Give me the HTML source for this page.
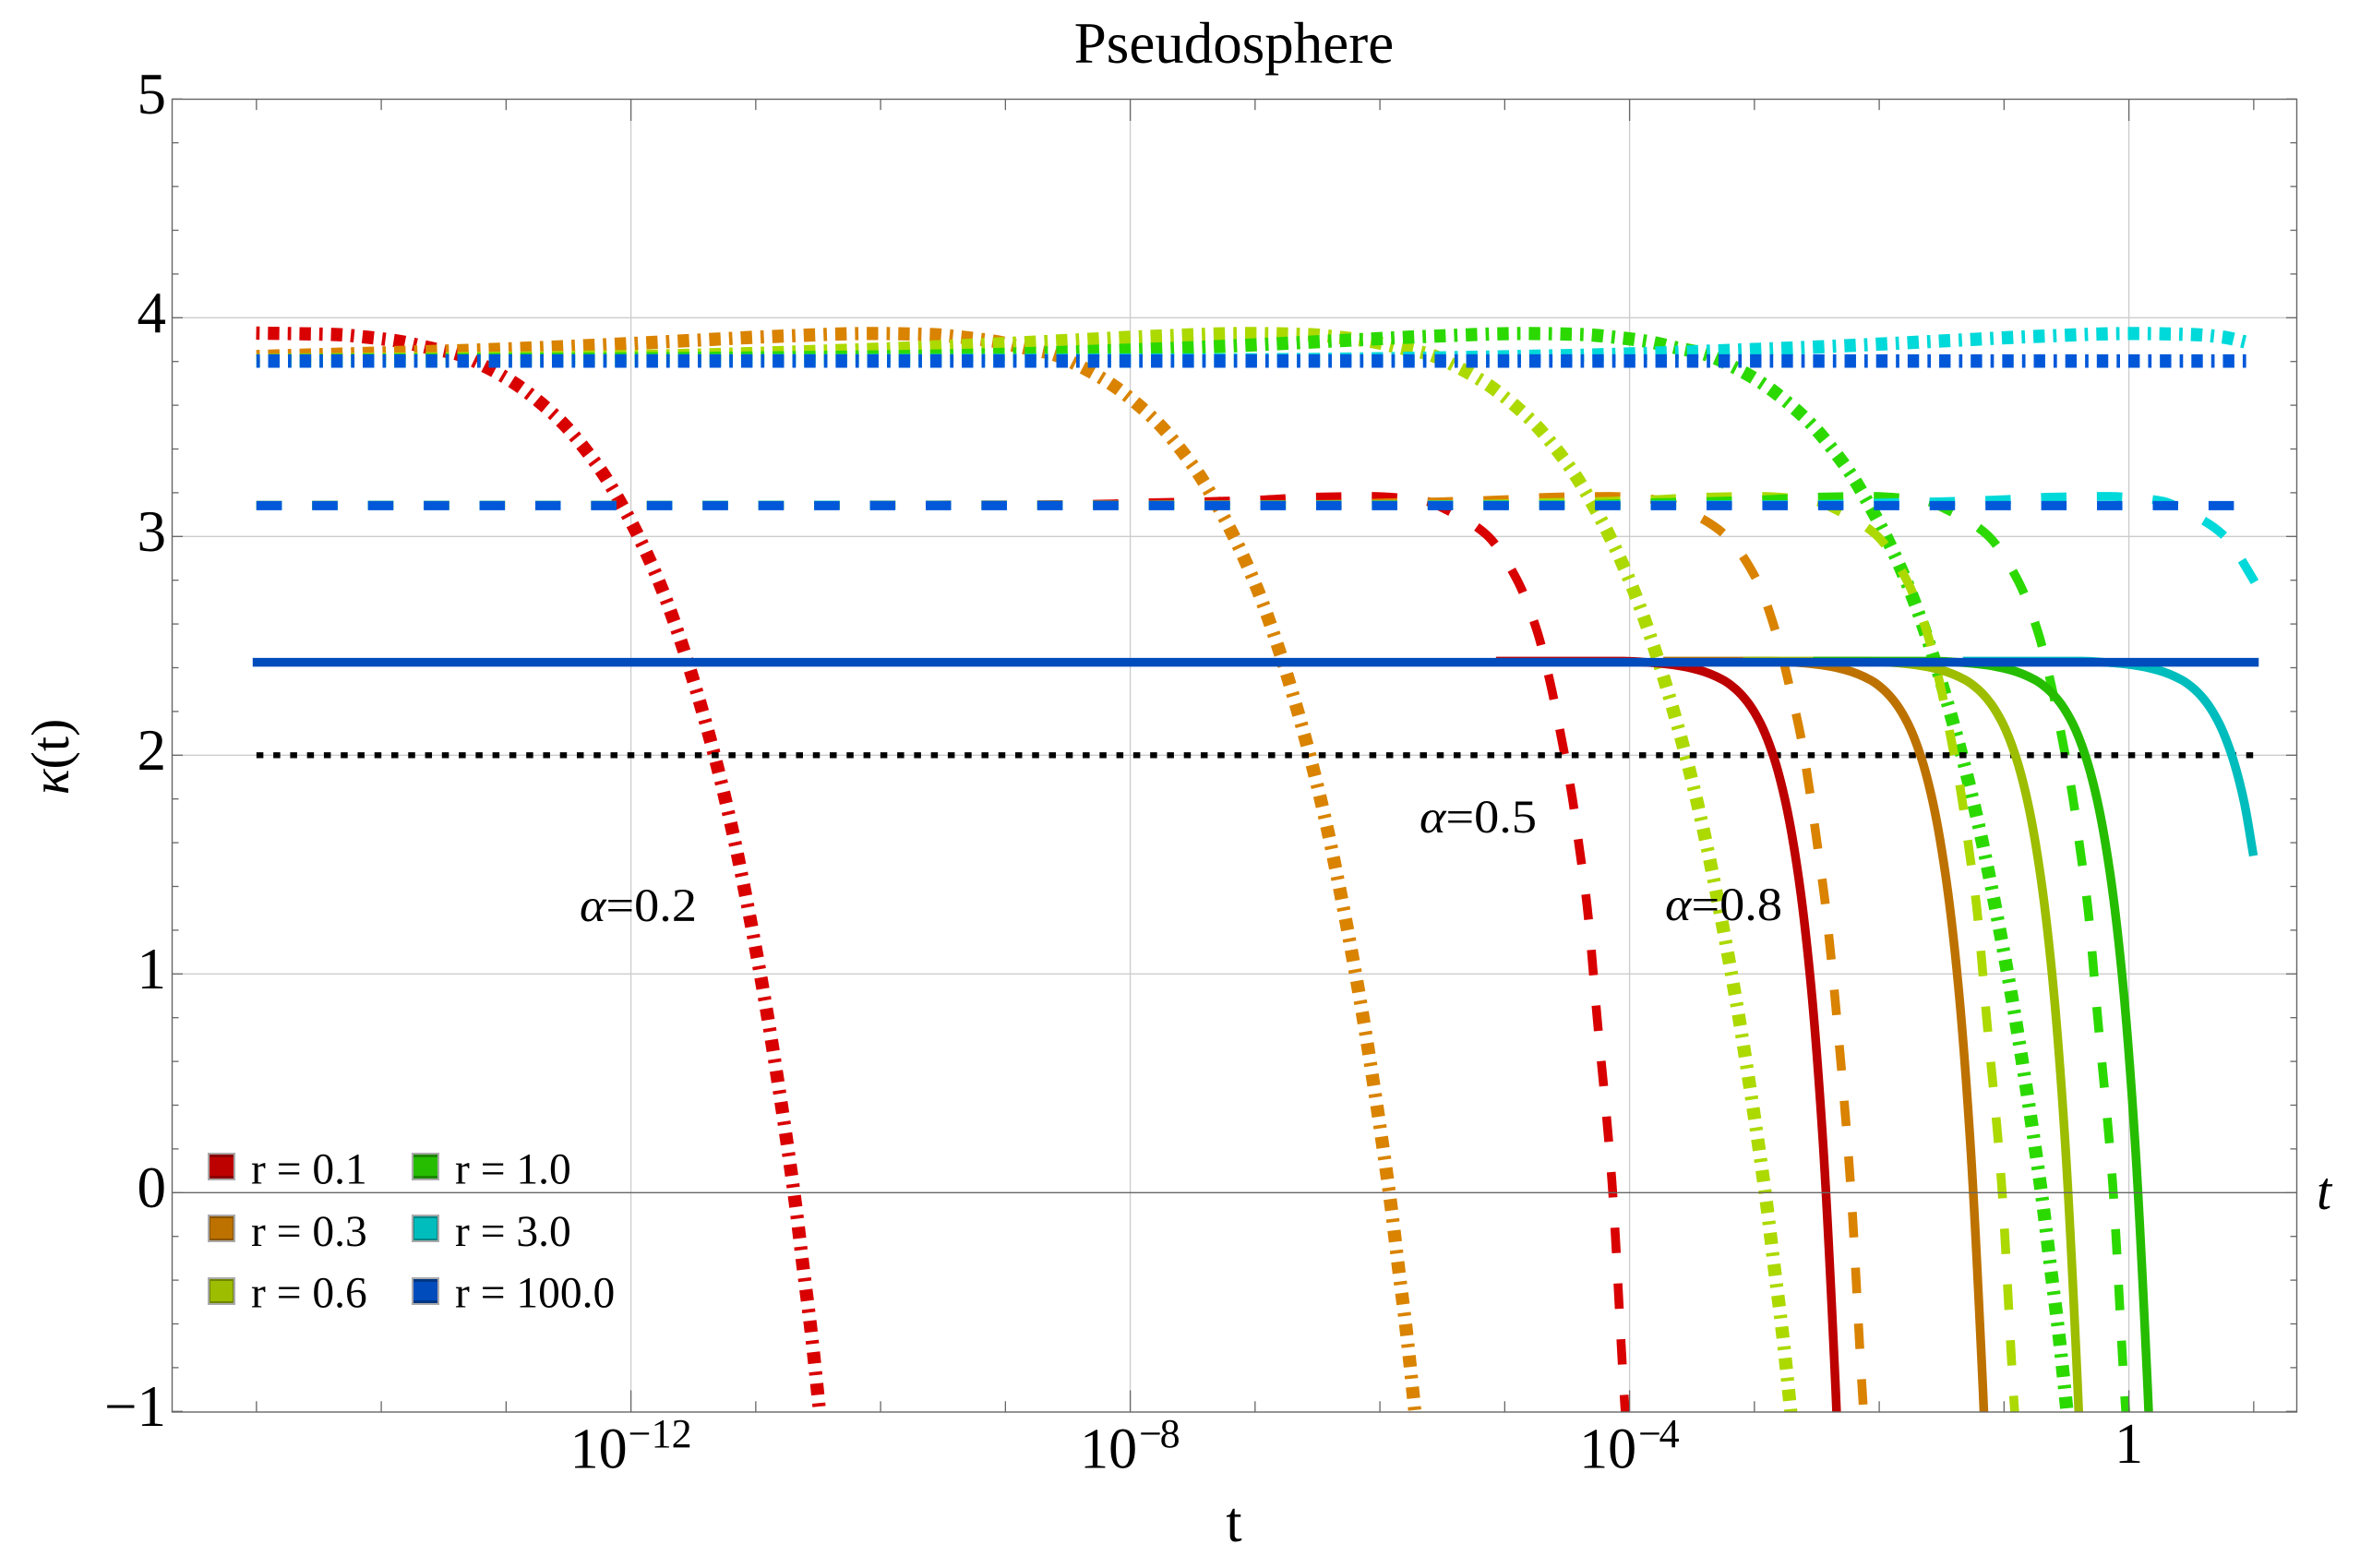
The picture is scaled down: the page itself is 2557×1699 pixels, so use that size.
<!DOCTYPE html>
<html lang="en">
<head>
<meta charset="utf-8">
<title>Pseudosphere</title>
<style>
html,body{margin:0;padding:0;background:#fff;}
svg{display:block;}
text{font-family:"Liberation Serif","DejaVu Serif",serif;fill:#000;}
</style>
</head>
<body>
<svg id="chart" xmlns="http://www.w3.org/2000/svg" width="2557" height="1699" viewBox="0 0 2557 1699">
  <defs>
    <clipPath id="plot-clip"><rect x="186.5" y="107.5" width="2302" height="1422.5"/></clipPath>
  </defs>
  <rect x="0" y="0" width="2557" height="1699" fill="#fff"/>
  <text x="1337" y="68" font-size="63" text-anchor="middle">Pseudosphere</text>
  <g id="grid"></g>
  <g id="curves" clip-path="url(#plot-clip)"></g>
  <g id="axes"></g>
  <g id="labels"></g>
  <text x="1337" y="1670" font-size="62" text-anchor="middle">t</text>
  <text transform="translate(74,820) rotate(-90)" font-size="58" text-anchor="middle"><tspan font-style="italic">κ</tspan>(t)</text>
  <text x="2510" y="1310" font-size="58" font-style="italic">t</text>
  <text x="628" y="998" font-size="51" textLength="127" lengthAdjust="spacingAndGlyphs"><tspan font-style="italic">α</tspan>=0.2</text>
  <text x="1538" y="902" font-size="51" textLength="127" lengthAdjust="spacingAndGlyphs"><tspan font-style="italic">α</tspan>=0.5</text>
  <text x="1804" y="997" font-size="51" textLength="127" lengthAdjust="spacingAndGlyphs"><tspan font-style="italic">α</tspan>=0.8</text>
  <g id="legend">
    <g>
      <rect x="226" y="1250" width="28" height="28" fill="#8a0000" stroke="#aaa" stroke-width="2"/><rect x="227" y="1254" width="26" height="20" fill="#bd0000"/>
      <text x="272" y="1282.7" font-size="47.5">r = 0.1</text>
    </g>
    <g>
      <rect x="226" y="1317" width="28" height="28" fill="#8a5400" stroke="#aaa" stroke-width="2"/><rect x="228" y="1320" width="24" height="22" fill="#bd7200"/>
      <text x="272" y="1350" font-size="47.5">r = 0.3</text>
    </g>
    <g>
      <rect x="226" y="1385" width="28" height="28" fill="#6f8600" stroke="#aaa" stroke-width="2"/><rect x="228" y="1388" width="24" height="22" fill="#9dbd00"/>
      <text x="272" y="1416.7" font-size="47.5">r = 0.6</text>
    </g>
    <g>
      <rect x="447" y="1250" width="28" height="28" fill="#1c8600" stroke="#aaa" stroke-width="2"/><rect x="448" y="1254" width="26" height="20" fill="#26bd00"/>
      <text x="493" y="1282.7" font-size="47.5">r = 1.0</text>
    </g>
    <g>
      <rect x="447" y="1317" width="28" height="28" fill="#008686" stroke="#aaa" stroke-width="2"/><rect x="449" y="1320" width="24" height="22" fill="#00bdbd"/>
      <text x="493" y="1350" font-size="47.5">r = 3.0</text>
    </g>
    <g>
      <rect x="447" y="1385" width="28" height="28" fill="#003684" stroke="#aaa" stroke-width="2"/><rect x="448" y="1389" width="26" height="20" fill="#004cbd"/>
      <text x="493" y="1416.7" font-size="47.5">r = 100.0</text>
    </g>
  </g>
</svg>
<script>
// ---- Axis data ----
const xMinorDecades = [-15,-14,-13,-12,-11,-10,-9,-8,-7,-6,-5,-4,-3,-2,-1,0,1];
const xMajorDecades = [-12,-8,-4,0];
const yMajorTicks = [-1,0,1,2,3,4,5];
const yGridLines = [1,2,3,4];
const yMinorTicks = [-0.8,-0.6,-0.4,-0.2,0.2,0.4,0.6,0.8,1.2,1.4,1.6,1.8,2.2,2.4,2.6,2.8,3.2,3.4,3.6,3.8,4.2,4.4,4.6,4.8];

// ---- alpha = 0.2 (dash-dot): log10(t) and kappa ----
const lgA2Red = [-15.002,-14.352,-14.112,-13.862,-13.612,-13.402,-13.142,-12.912,-12.712,-12.532,-12.367,-12.219,-12.086,-11.953,-11.748,-11.578,-11.43,-11.3,-11.184,-11.083,-10.99,-10.903,-10.824,-10.75,-10.681,-10.62,-10.558,-10.504,-10.472];
const kA2Red = [3.93,3.923,3.911,3.893,3.862,3.836,3.77,3.693,3.605,3.51,3.399,3.284,3.157,3.016,2.755,2.483,2.206,1.93,1.647,1.365,1.083,0.798,0.513,0.229,-0.056,-0.344,-0.628,-0.916,-1.1];
const lgA2Orange = [-15,-13.1,-12.34,-11.59,-10.83,-10.07,-9.583,-9.343,-9.093,-8.843,-8.633,-8.373,-8.143,-7.943,-7.763,-7.598,-7.45,-7.317,-7.184,-6.979,-6.809,-6.661,-6.531,-6.415,-6.314,-6.221,-6.134,-6.055,-5.981,-5.912,-5.851,-5.789,-5.735,-5.703];
const kA2Orange = [3.823,3.855,3.873,3.894,3.915,3.928,3.923,3.911,3.893,3.862,3.836,3.77,3.693,3.605,3.51,3.399,3.284,3.157,3.016,2.755,2.483,2.206,1.93,1.647,1.365,1.083,0.798,0.513,0.229,-0.056,-0.344,-0.628,-0.916,-1.1];
const lgA2Yellow = [-15,-12,-10.09,-9.33,-8.58,-7.82,-7.06,-6.572,-6.332,-6.082,-5.832,-5.622,-5.362,-5.132,-4.932,-4.752,-4.587,-4.439,-4.306,-4.173,-3.968,-3.798,-3.65,-3.52,-3.404,-3.303,-3.21,-3.123,-3.044,-2.97,-2.901,-2.84,-2.778,-2.724,-2.692];
const kA2Yellow = [3.805,3.823,3.855,3.873,3.894,3.915,3.928,3.923,3.911,3.893,3.862,3.836,3.77,3.693,3.605,3.51,3.399,3.284,3.157,3.016,2.755,2.483,2.206,1.93,1.647,1.365,1.083,0.798,0.513,0.229,-0.056,-0.344,-0.628,-0.916,-1.1];
const lgA2Green = [-15,-9.79,-7.88,-7.12,-6.37,-5.61,-4.85,-4.359,-4.119,-3.869,-3.619,-3.409,-3.149,-2.919,-2.719,-2.539,-2.374,-2.226,-2.093,-1.96,-1.755,-1.585,-1.437,-1.307,-1.191,-1.09,-0.997,-0.91,-0.831,-0.757,-0.688,-0.627,-0.565,-0.511,-0.479];
const kA2Green = [3.803,3.823,3.855,3.873,3.894,3.915,3.928,3.923,3.911,3.893,3.862,3.836,3.77,3.693,3.605,3.51,3.399,3.284,3.157,3.016,2.755,2.483,2.206,1.93,1.647,1.365,1.083,0.798,0.513,0.229,-0.056,-0.344,-0.628,-0.916,-1.1];
const lgA2Cyan = [-15,-7,-4.6,-3,-2.24,-1.49,-0.73,0.03,0.52,0.76,0.943];
const kA2Cyan = [3.802,3.808,3.826,3.855,3.873,3.894,3.915,3.928,3.923,3.911,3.888];
const lgA2Blue = [-15,0.943];
const kA2Blue = [3.802,3.802];

// ---- alpha = 0.5 (dashed) ----
const lgA5Red = [-15,-8.74,-8.29,-7.84,-7.40,-6.95,-6.51,-6.07,-5.81,-5.62,-5.46,-5.15,-4.90,-4.74,-4.63,-4.55,-4.46,-4.40,-4.34,-4.26,-4.14,-4.04,-4.01];
const kA5Red = [3.142,3.145,3.147,3.154,3.159,3.167,3.18,3.183,3.175,3.16,3.12,3.01,2.80,2.566,2.317,2.09,1.81,1.566,1.31,0.80,0.04,-0.96,-1.2];
const lgA5Orange = [-15,-6.83,-6.38,-5.93,-5.49,-5.04,-4.6,-4.16,-3.9,-3.71,-3.55,-3.24,-2.98,-2.83,-2.72,-2.63,-2.55,-2.49,-2.43,-2.34,-2.23,-2.13,-2.10];
const kA5Orange = [3.142,3.145,3.147,3.154,3.159,3.167,3.18,3.183,3.175,3.16,3.12,3.01,2.80,2.566,2.317,2.09,1.81,1.566,1.31,0.80,0.04,-0.96,-1.2];
const lgA5Yellow = [-15,-5.62,-5.17,-4.72,-4.28,-3.83,-3.39,-2.95,-2.69,-2.5,-2.34,-2.03,-1.78,-1.62,-1.51,-1.43,-1.34,-1.28,-1.22,-1.14,-1.02,-0.92,-0.89];
const kA5Yellow = [3.142,3.145,3.147,3.154,3.159,3.167,3.18,3.183,3.175,3.16,3.12,3.01,2.80,2.566,2.317,2.09,1.81,1.566,1.31,0.80,0.04,-0.96,-1.2];
const lgA5Green = [-15,-4.73,-4.28,-3.83,-3.39,-2.94,-2.5,-2.06,-1.8,-1.61,-1.45,-1.14,-0.89,-0.73,-0.62,-0.54,-0.45,-0.39,-0.33,-0.25,-0.13,-0.03,0];
const kA5Green = [3.142,3.145,3.147,3.154,3.159,3.167,3.18,3.183,3.175,3.16,3.12,3.01,2.80,2.566,2.317,2.09,1.81,1.566,1.31,0.80,0.04,-0.96,-1.2];
const lgA5Cyan = [-15,-2.84,-2.39,-1.94,-1.5,-1.05,-0.61,-0.17,0.09,0.28,0.44,0.75,1.0,1.025];
const kA5Cyan = [3.142,3.145,3.147,3.154,3.159,3.167,3.18,3.183,3.175,3.16,3.12,3.01,2.80,2.775];
const lgA5Blue = [-15,1.04];
const kA5Blue = [3.141,3.141];

// ---- alpha = 0.8 (solid) ----
const lgA8Red = [-5.07,-4.05,-3.85,-3.65,-3.45,-3.25,-3.15,-3.05,-2.95,-2.85,-2.75,-2.65,-2.55,-2.45,-2.35,-2.32];
const kA8Red = [2.43,2.43,2.424,2.413,2.39,2.344,2.302,2.239,2.144,2.0,1.784,1.457,0.967,0.224,-0.89,-1.3];
const lgA8Orange = [-3.73,-2.87,-2.67,-2.47,-2.27,-2.07,-1.97,-1.87,-1.77,-1.67,-1.57,-1.47,-1.37,-1.27,-1.17,-1.14];
const kA8Orange = [2.43,2.43,2.424,2.413,2.39,2.344,2.302,2.239,2.144,2.0,1.784,1.457,0.967,0.224,-0.89,-1.3];
const lgA8Yellow = [-3.09,-2.11,-1.91,-1.71,-1.51,-1.31,-1.21,-1.11,-1.01,-0.91,-0.81,-0.71,-0.61,-0.51,-0.41,-0.38];
const kA8Yellow = [2.43,2.43,2.424,2.413,2.39,2.344,2.302,2.239,2.144,2.0,1.784,1.457,0.967,0.224,-0.89,-1.3];
const lgA8Green = [-2.53,-1.55,-1.35,-1.15,-0.95,-0.75,-0.65,-0.55,-0.45,-0.35,-0.25,-0.15,-0.05,0.05,0.15,0.18];
const kA8Green = [2.43,2.43,2.424,2.413,2.39,2.344,2.302,2.239,2.144,2.0,1.784,1.457,0.967,0.224,-0.89,-1.3];
const lgA8Cyan = [-1.33,-0.376,-0.176,0.024,0.224,0.424,0.524,0.624,0.724,0.824,0.924,0.998];
const kA8Cyan = [2.43,2.43,2.424,2.413,2.39,2.344,2.302,2.239,2.144,2.0,1.784,1.54];
const lgA8Blue = [-15.03,1.04];
const kA8Blue = [2.425,2.425];

// ---- Reference line ----
const lgRef = [-15,1];
const kRef = [2,2];

// ---- Axis functions ----
const X0 = 186.5, X1 = 2488.5, Y0 = 107.5, Y1 = 1530;
function xPx(lg){ return 2306.6 + 135.25 * lg; }
function yPx(k){ return 1292.3 - 237 * k; }

const NS = 'http://www.w3.org/2000/svg';
function mk(parent, tag, attrs){
  const el = document.createElementNS(NS, tag);
  for (const k in attrs) el.setAttribute(k, attrs[k]);
  parent.appendChild(el);
  return el;
}
function pathFrom(lgs, ks){
  const xs = lgs.map(xPx), ys = ks.map(yPx), n = xs.length;
  if (n === 2) return 'M' + xs[0].toFixed(2) + ' ' + ys[0].toFixed(2) + 'L' + xs[1].toFixed(2) + ' ' + ys[1].toFixed(2);
  const dx = [], sl = [], m = new Array(n).fill(0);
  for (let i = 0; i < n - 1; i++){ dx[i] = xs[i+1] - xs[i]; sl[i] = (ys[i+1] - ys[i]) / dx[i]; }
  m[0] = sl[0]; m[n-1] = sl[n-2];
  for (let i = 1; i < n - 1; i++){
    if (sl[i-1] * sl[i] <= 0) { m[i] = 0; }
    else {
      const a = 2 * dx[i] + dx[i-1], b = dx[i] + 2 * dx[i-1];
      m[i] = (a + b) / (a / sl[i-1] + b / sl[i]);
    }
  }
  let d = 'M' + xs[0].toFixed(2) + ' ' + ys[0].toFixed(2);
  for (let i = 0; i < n - 1; i++){
    const h = dx[i] / 3;
    d += 'C' + (xs[i] + h).toFixed(2) + ' ' + (ys[i] + m[i] * h).toFixed(2) + ' ' +
         (xs[i+1] - h).toFixed(2) + ' ' + (ys[i+1] - m[i+1] * h).toFixed(2) + ' ' +
         xs[i+1].toFixed(2) + ' ' + ys[i+1].toFixed(2);
  }
  return d;
}

// ---- Grid ----
const grid = document.getElementById('grid');
xMajorDecades.forEach(function(v){
  const el = mk(grid, 'line', {x1:xPx(v), x2:xPx(v), y1:Y0, y2:Y1, stroke:'#cccccc', 'stroke-width':1.3});
  
  
});
yGridLines.forEach(function(v){
  const el = mk(grid, 'line', {x1:X0, x2:X1, y1:yPx(v), y2:yPx(v), stroke:'#cccccc', 'stroke-width':1.4});
  
  
});

// ---- Curves ----
const curves = document.getElementById('curves');
const DD = '3.7 9.0 12.4 9.06', DA = '27.5 32.93', DOT = '7.5 10.77';
const seriesList = [
  ['alpha-0.2-r-0.1', lgA2Red, kA2Red, '#d90000', 14.3, DD],
  ['alpha-0.2-r-0.3', lgA2Orange, kA2Orange, '#d98300', 14.3, DD],
  ['alpha-0.2-r-0.6', lgA2Yellow, kA2Yellow, '#acd900', 14.3, DD],
  ['alpha-0.2-r-1.0', lgA2Green, kA2Green, '#2bd900', 14.3, DD],
  ['alpha-0.2-r-3.0', lgA2Cyan, kA2Cyan, '#00d9d9', 14.3, DD],
  ['alpha-0.2-r-100.0', lgA2Blue, kA2Blue, '#0058d9', 14.6, DD],
  ['alpha-0.5-r-0.1', lgA5Red, kA5Red, '#d90000', 9.6, DA],
  ['alpha-0.5-r-0.3', lgA5Orange, kA5Orange, '#d98300', 9.6, DA],
  ['alpha-0.5-r-0.6', lgA5Yellow, kA5Yellow, '#acd900', 9.6, DA],
  ['alpha-0.5-r-1.0', lgA5Green, kA5Green, '#2bd900', 9.6, DA],
  ['alpha-0.5-r-3.0', lgA5Cyan, kA5Cyan, '#00d9d9', 9.6, DA],
  ['alpha-0.5-r-100.0', lgA5Blue, kA5Blue, '#0058d9', 10, DA],
  ['reference-line-kappa-2', lgRef, kRef, '#000000', 6.3, DOT],
  ['alpha-0.8-r-0.1', lgA8Red, kA8Red, '#bd0000', 9.5, ''],
  ['alpha-0.8-r-0.3', lgA8Orange, kA8Orange, '#bd7200', 9.5, ''],
  ['alpha-0.8-r-0.6', lgA8Yellow, kA8Yellow, '#9dbd00', 9.5, ''],
  ['alpha-0.8-r-1.0', lgA8Green, kA8Green, '#26bd00', 9.5, ''],
  ['alpha-0.8-r-3.0', lgA8Cyan, kA8Cyan, '#00bdbd', 9.5, ''],
  ['alpha-0.8-r-100.0', lgA8Blue, kA8Blue, '#004cbd', 9.5, '']
];
seriesList.forEach(function(s){
  const el = mk(curves, 'path', {d:pathFrom(s[1], s[2]), fill:'none', stroke:s[3], 'stroke-width':s[4], 'stroke-linecap':'butt', 'stroke-linejoin':'round'});
  if (s[5]) el.setAttribute('stroke-dasharray', s[5]);
  
  
});

// ---- Axes, frame, ticks ----
const axes = document.getElementById('axes');
const AX = '#666666';
const frame = mk(axes, 'rect', {x:X0, y:Y0, width:X1-X0, height:Y1-Y0, fill:'none', stroke:AX, 'stroke-width':1.4});


const zeroAxis = mk(axes, 'line', {x1:X0, x2:X1, y1:yPx(0), y2:yPx(0), stroke:AX, 'stroke-width':1.4});



function tick(x1, y1, x2, y2, name){
  const el = mk(axes, 'line', {x1:x1, y1:y1, x2:x2, y2:y2, stroke:AX, 'stroke-width':1.3});
  
  
}
xMinorDecades.forEach(function(v){
  const len = xMajorDecades.indexOf(v) >= 0 ? 23.5 : 11.7;
  tick(xPx(v), Y0, xPx(v), Y0 + len, 'x-tick-top');
  tick(xPx(v), Y1, xPx(v), Y1 - len, 'x-tick-bottom');
});
yMajorTicks.forEach(function(v){
  tick(X0, yPx(v), X0 + 11.5, yPx(v), 'y-tick-left');
  tick(X1, yPx(v), X1 - 11.5, yPx(v), 'y-tick-right');
});
yMinorTicks.forEach(function(v){
  tick(X0, yPx(v), X0 + 7, yPx(v), 'y-minor-tick-left');
  tick(X1, yPx(v), X1 - 7, yPx(v), 'y-minor-tick-right');
});

// ---- Tick labels ----
const labels = document.getElementById('labels');
yMajorTicks.forEach(function(v){
  const el = mk(labels, 'text', {x:180, y:yPx(v) + 15.6, 'font-size':63, 'text-anchor':'end'});
  el.textContent = v < 0 ? '\u2212' + (-v) : String(v);
  
  
});
xMajorDecades.forEach(function(v){
  if (v === 0) {
    const one = mk(labels, 'text', {x:xPx(0) - 15.5, y:1585, 'font-size':62});
    one.textContent = '1';
    
    
    return;
  }
  const two = v <= -10;
  const base = mk(labels, 'text', {x:xPx(v) - (two ? 66 : 54.5), y:1590.7, 'font-size':62});
  base.textContent = '10';
  
  
  const minus = mk(labels, 'text', {x:xPx(v) + (two ? -3 : 9.5), y:1568, 'font-size':44});
  minus.textContent = '\u2212';
  
  
  const exp = mk(labels, 'text', {x:xPx(v) + (two ? 22 : 32), y:1568, 'font-size':44});
  exp.textContent = String(-v);
  
  
});
</script>
</body>
</html>
